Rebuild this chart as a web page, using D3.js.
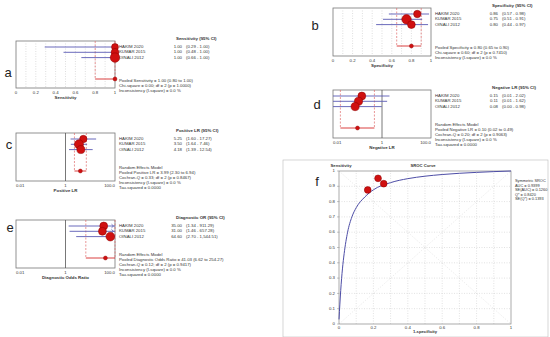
<!DOCTYPE html>
<html>
<head>
<meta charset="utf-8">
<script src="https://cdn.jsdelivr.net/npm/d3@7"></script>
<style>
  body { margin: 0; background: #fff; }
  svg { display: block; font-family: "Liberation Sans", Arial, sans-serif; }
</style>
</head>
<body>
<svg id="chart" width="550" height="337"></svg>
<script>
// ---- data ----
const studies = ["HAKIM 2020", "KUMAR 2015", "OINALI 2012"];

const sensEst = [1.00, 1.00, 1.00];
const sensLo = [0.29, 0.48, 0.66];
const sensHi = [1.00, 1.00, 1.00];
const sensW = [24, 30, 45];
const sensPooled = [1.00, 0.80, 1.00];

const specEst = [0.86, 0.75, 0.80];
const specLo = [0.57, 0.51, 0.44];
const specHi = [0.98, 0.91, 0.97];
const specW = [27, 44, 30];
const specPooled = [0.80, 0.65, 0.90];

const plrEst = [5.25, 3.50, 4.18];
const plrLo = [1.60, 1.64, 1.39];
const plrHi = [17.27, 7.46, 12.54];
const plrW = [27, 41, 32];
const plrPooled = [3.99, 2.30, 6.94];

const nlrEst = [0.15, 0.11, 0.08];
const nlrLo = [0.01, 0.01, 0.00];
const nlrHi = [2.02, 1.62, 0.98];
const nlrW = [31, 33, 33];
const nlrPooled = [0.10, 0.02, 0.49];

const dorEst = [35.00, 31.00, 64.60];
const dorLo = [1.34, 1.46, 2.70];
const dorHi = [911.29, 657.28, 1544.51];
const dorW = [31, 31, 38];
const dorPooled = [41.03, 6.62, 254.27];

const linTicks = [0, 0.2, 0.4, 0.6, 0.8, 1];
const logTicks = [0.01, 1, 100];

// SROC: study points (1-specificity, sensitivity) and points
const srocFpr = [0.227, 0.26, 0.167];
const srocTpr = [0.952, 0.917, 0.876];
const curveFpr = [0, 0.005, 0.01, 0.02, 0.03, 0.05, 0.075, 0.1, 0.15, 0.2, 0.3, 0.4, 0.5, 0.6, 0.7, 0.8, 0.9, 1];
const curveTpr = [0.03, 0.13, 0.22, 0.36, 0.46, 0.6, 0.7, 0.76, 0.83, 0.877, 0.924, 0.95, 0.966, 0.977, 0.985, 0.991, 0.996, 1];
const srocStats = ["Symmetric SROC", "AUC = 0.9399", "SE(AUC) = 0.1260", "Q* = 0.8420", "SE(Q*) = 0.1393"];

const svg = d3.select("#chart");
const red = "#d01010";
const blue = "#5a5ab4";
const txt = "#333";
const fs = 4.3;
const f2 = d3.format(",.2f");
const rScale = d3.scaleSqrt().domain([0, 100]).range([0, 7.1]);

function forest(p) {
  const g = svg.append("g");
  const x = p.log
    ? d3.scaleLog().domain([0.01, 100]).range([p.x0, p.x1]).clamp(true)
    : d3.scaleLinear().domain([0, 1]).range([p.x0, p.x1]).clamp(true);
  const xv = v => x(p.log ? Math.max(v, 0.01) : v);
  const rowY = i => p.top + 6 + i * 5.3;
  const poolY = p.top + 38;

  // box
  g.append("rect")
    .attr("x", p.x0).attr("y", p.top)
    .attr("width", p.x1 - p.x0).attr("height", p.bottom - p.top)
    .attr("fill", "none").attr("stroke", "#777").attr("stroke-width", 0.8);

  if (!p.log) {
    g.selectAll(".grid").data(d3.range(1, 10).map(d => d / 10)).enter()
      .append("line")
      .attr("x1", d => x(d)).attr("x2", d => x(d))
      .attr("y1", p.top).attr("y2", p.bottom)
      .attr("stroke", "#c8c8c8").attr("stroke-width", 0.6)
      .attr("stroke-dasharray", "1,1.5");
  } else {
    g.append("line")
      .attr("x1", x(1)).attr("x2", x(1))
      .attr("y1", p.top).attr("y2", p.bottom)
      .attr("stroke", "#555").attr("stroke-width", 0.8);
  }

  // pooled bracket
  const pl = p.pooled;
  [pl[1], pl[2]].forEach(v => {
    g.append("line")
      .attr("x1", xv(v)).attr("x2", xv(v))
      .attr("y1", p.top).attr("y2", poolY)
      .attr("stroke", "#e06a6a").attr("stroke-width", 0.7)
      .attr("stroke-dasharray", "2,1.5");
  });
  g.append("line")
    .attr("x1", xv(pl[1])).attr("x2", xv(pl[2]))
    .attr("y1", poolY).attr("y2", poolY)
    .attr("stroke", red).attr("stroke-width", 0.8);

  // study CIs
  g.selectAll(".ci").data(studies).enter()
    .append("line")
    .attr("x1", (d, i) => xv(p.lo[i])).attr("x2", (d, i) => xv(p.hi[i]))
    .attr("y1", (d, i) => rowY(i)).attr("y2", (d, i) => rowY(i))
    .attr("stroke", blue).attr("stroke-width", 0.9);

  // arrows for CIs running past the axis
  studies.forEach((d, i) => {
    if (p.log && p.hi[i] > 100) {
      const ax = x(100) - 1.5, ay = rowY(i);
      g.append("path")
        .attr("d", `M${ax - 2},${ay - 1.8} L${ax},${ay} L${ax - 2},${ay + 1.8}`)
        .attr("fill", "none").attr("stroke", blue).attr("stroke-width", 0.8);
    }
  });

  // study estimates
  g.selectAll(".dot").data(studies).enter()
    .append("circle")
    .attr("cx", (d, i) => xv(p.est[i])).attr("cy", (d, i) => rowY(i))
    .attr("r", (d, i) => rScale(p.w[i]))
    .attr("fill", red).attr("stroke", "#8a0000").attr("stroke-width", 0.5);

  g.append("circle")
    .attr("cx", xv(pl[0])).attr("cy", poolY).attr("r", 2)
    .attr("fill", red).attr("stroke", "#8a0000").attr("stroke-width", 0.4);

  // axis labels
  const ticks = p.log ? logTicks : linTicks;
  g.selectAll(".tk").data(ticks).enter()
    .append("text")
    .attr("x", d => x(d)).attr("y", p.bottom + 5)
    .attr("text-anchor", (d, i) => p.log ? (i === 0 ? "start" : i === ticks.length - 1 ? "end" : "middle") : "middle")
    .attr("dominant-baseline", "middle")
    .attr("font-size", fs).attr("fill", txt)
    .text(d => p.log ? (d === 100 ? "100.0" : String(d)) : String(d));
  g.append("text")
    .attr("x", (p.x0 + p.x1) / 2).attr("y", p.bottom + 10)
    .attr("text-anchor", "middle").attr("dominant-baseline", "middle")
    .attr("font-size", 4.4).attr("font-weight", "bold").attr("fill", txt)
    .text(p.axisTitle);

  // right-hand table
  g.append("text")
    .attr("x", p.x1 + 61).attr("y", p.top - 2.5)
    .attr("dominant-baseline", "middle")
    .attr("font-size", 4.4).attr("font-weight", "bold").attr("fill", txt)
    .text(p.header);
  studies.forEach((s, i) => {
    const y = rowY(i);
    g.append("text").attr("x", p.x1 + 4).attr("y", y)
      .attr("dominant-baseline", "middle").attr("font-size", fs).attr("fill", txt).text(s);
    g.append("text").attr("x", p.x1 + 67).attr("y", y)
      .attr("text-anchor", "end")
      .attr("dominant-baseline", "middle").attr("font-size", fs).attr("fill", txt).text(f2(p.est[i]));
    g.append("text").attr("x", p.x1 + 71).attr("y", y)
      .attr("dominant-baseline", "middle").attr("font-size", fs).attr("fill", txt)
      .text(`(${f2(p.lo[i])} - ${f2(p.hi[i])})`);
  });
  const y0 = p.summary.length > 3 ? poolY - 3 : poolY + 2;
  const dy = p.summary.length > 3 ? 5 : 4.7;
  p.summary.forEach((s, i) => {
    g.append("text").attr("x", p.x1 + 4).attr("y", y0 + i * dy)
      .attr("dominant-baseline", "middle").attr("font-size", fs).attr("fill", txt).text(s);
  });

  // panel letter
  svg.append("text")
    .attr("x", p.letterX).attr("y", p.letterY)
    .attr("text-anchor", "middle").attr("dominant-baseline", "middle")
    .attr("font-size", 13).attr("fill", "#222").text(p.letter);
}

const fmtPooled = (name, pl) => `${name} = ${f2(pl[0])} (${f2(pl[1])} to ${f2(pl[2])})`;

forest({
  letter: "a", letterX: 8, letterY: 74,
  x0: 16, x1: 115, top: 41, bottom: 88, log: false,
  est: sensEst, lo: sensLo, hi: sensHi, w: sensW, pooled: sensPooled,
  header: "Sensitivity (95% CI)", axisTitle: "Sensitivity",
  summary: [fmtPooled("Pooled Sensitivity", sensPooled),
    "Chi-square = 0.00; df = 2 (p = 1.0000)",
    "Inconsistency (I-square) = 0.0 %"]
});

forest({
  letter: "b", letterX: 315, letterY: 27,
  x0: 333, x1: 431, top: 8, bottom: 56, log: false,
  est: specEst, lo: specLo, hi: specHi, w: specW, pooled: specPooled,
  header: "Specificity (95% CI)", axisTitle: "Specificity",
  summary: [fmtPooled("Pooled Specificity", specPooled),
    "Chi-square = 0.60; df = 2 (p = 0.7410)",
    "Inconsistency (I-square) = 0.0 %"]
});

forest({
  letter: "c", letterX: 9, letterY: 146,
  x0: 16, x1: 115, top: 133, bottom: 181, log: true,
  est: plrEst, lo: plrLo, hi: plrHi, w: plrW, pooled: plrPooled,
  header: "Positive LR (95% CI)", axisTitle: "Positive LR",
  summary: ["Random Effects Model",
    fmtPooled("Pooled Positive LR", plrPooled),
    "Cochran-Q = 0.33; df = 2 (p = 0.8467)",
    "Inconsistency (I-square) = 0.0 %",
    "Tau-squared = 0.0000"]
});

forest({
  letter: "d", letterX: 317, letterY: 106,
  x0: 333, x1: 431, top: 90, bottom: 138, log: true,
  est: nlrEst, lo: nlrLo, hi: nlrHi, w: nlrW, pooled: nlrPooled,
  header: "Negative LR (95% CI)", axisTitle: "Negative LR",
  summary: ["Random Effects Model",
    fmtPooled("Pooled Negative LR", nlrPooled),
    "Cochran-Q = 0.20; df = 2 (p = 0.9063)",
    "Inconsistency (I-square) = 0.0 %",
    "Tau-squared = 0.0000"]
});

forest({
  letter: "e", letterX: 10, letterY: 229,
  x0: 16, x1: 115, top: 220, bottom: 268, log: true,
  est: dorEst, lo: dorLo, hi: dorHi, w: dorW, pooled: dorPooled,
  header: "Diagnostic OR (95% CI)", axisTitle: "Diagnostic Odds Ratio",
  summary: ["Random Effects Model",
    fmtPooled("Pooled Diagnostic Odds Ratio", dorPooled),
    "Cochran-Q = 0.12; df = 2 (p = 0.9417)",
    "Inconsistency (I-square) = 0.0 %",
    "Tau-squared = 0.0000"]
});

// ---- f: SROC curve ----
(function () {
  const g = svg.append("g");
  const x = d3.scaleLinear().domain([0, 1]).range([339, 511]);
  const y = d3.scaleLinear().domain([0, 1]).range([324, 171]);
  const tenths = d3.range(0, 11).map(d => d / 10);

  g.append("rect").attr("x", 283).attr("y", 160).attr("width", 265).attr("height", 177)
    .attr("fill", "none").attr("stroke", "#bbb").attr("stroke-width", 0.6);

  g.selectAll(".gx").data(tenths.slice(1, 10)).enter().append("line")
    .attr("x1", d => x(d)).attr("x2", d => x(d)).attr("y1", y(0)).attr("y2", y(1))
    .attr("stroke", "#cfcfcf").attr("stroke-width", 0.6).attr("stroke-dasharray", "1,1.5");
  g.selectAll(".gy").data(tenths.slice(1, 10)).enter().append("line")
    .attr("y1", d => y(d)).attr("y2", d => y(d)).attr("x1", x(0)).attr("x2", x(1))
    .attr("stroke", "#cfcfcf").attr("stroke-width", 0.6).attr("stroke-dasharray", "1,1.5");
  [[0, 0, 1, 1], [0, 1, 1, 0]].forEach(l => {
    g.append("line").attr("x1", x(l[0])).attr("y1", y(l[1])).attr("x2", x(l[2])).attr("y2", y(l[3]))
      .attr("stroke", "#d8d8d8").attr("stroke-width", 0.6).attr("stroke-dasharray", "1,1.5");
  });
  g.append("rect").attr("x", x(0)).attr("y", y(1)).attr("width", x(1) - x(0)).attr("height", y(0) - y(1))
    .attr("fill", "none").attr("stroke", "#888").attr("stroke-width", 0.7);

  // ticks
  g.selectAll(".ty").data(tenths).enter().append("text")
    .attr("x", x(0) - 4).attr("y", d => y(d))
    .attr("text-anchor", "end").attr("dominant-baseline", "middle")
    .attr("font-size", fs).attr("fill", txt).text(d => String(d));
  g.selectAll(".tyl").data(tenths).enter().append("line")
    .attr("x1", x(0) - 2).attr("x2", x(0)).attr("y1", d => y(d)).attr("y2", d => y(d))
    .attr("stroke", "#888").attr("stroke-width", 0.5);
  g.selectAll(".tx").data([0, 0.2, 0.4, 0.6, 0.8, 1]).enter().append("text")
    .attr("x", d => x(d)).attr("y", y(0) + 3.5)
    .attr("text-anchor", "middle").attr("dominant-baseline", "middle")
    .attr("font-size", fs).attr("fill", txt).text(d => String(d));
  g.append("text").attr("x", (x(0) + x(1)) / 2).attr("y", y(0) + 8)
    .attr("text-anchor", "middle").attr("dominant-baseline", "middle")
    .attr("font-size", 4.2).attr("font-weight", "bold").attr("fill", txt).text("1-specificity");
  g.append("text").attr("x", 341).attr("y", 166)
    .attr("text-anchor", "middle").attr("dominant-baseline", "middle")
    .attr("font-size", 4.2).attr("font-weight", "bold").attr("fill", txt).text("Sensitivity");
  g.append("text").attr("x", 423).attr("y", 166)
    .attr("text-anchor", "middle").attr("dominant-baseline", "middle")
    .attr("font-size", 4.2).attr("font-weight", "bold").attr("fill", txt).text("SROC Curve");

  // curve
  const pts = curveFpr.map((d, i) => [d, curveTpr[i]]);
  g.append("path").datum(pts)
    .attr("d", d3.line().x(d => x(d[0])).y(d => y(d[1])).curve(d3.curveMonotoneX))
    .attr("fill", "none").attr("stroke", "#4d4da6").attr("stroke-width", 1);

  g.selectAll(".sp").data(srocFpr).enter().append("circle")
    .attr("cx", d => x(d)).attr("cy", (d, i) => y(srocTpr[i])).attr("r", 3.4)
    .attr("fill", red).attr("stroke", "#8a0000").attr("stroke-width", 0.5);

  srocStats.forEach((s, i) => {
    g.append("text").attr("x", 515).attr("y", 181 + i * 4.5)
      .attr("dominant-baseline", "middle").attr("font-size", 3.9).attr("fill", txt).text(s);
  });

  svg.append("text").attr("x", 317).attr("y", 183)
    .attr("text-anchor", "middle").attr("dominant-baseline", "middle")
    .attr("font-size", 13).attr("fill", "#222").text("f");
})();
</script>
</body>
</html>
